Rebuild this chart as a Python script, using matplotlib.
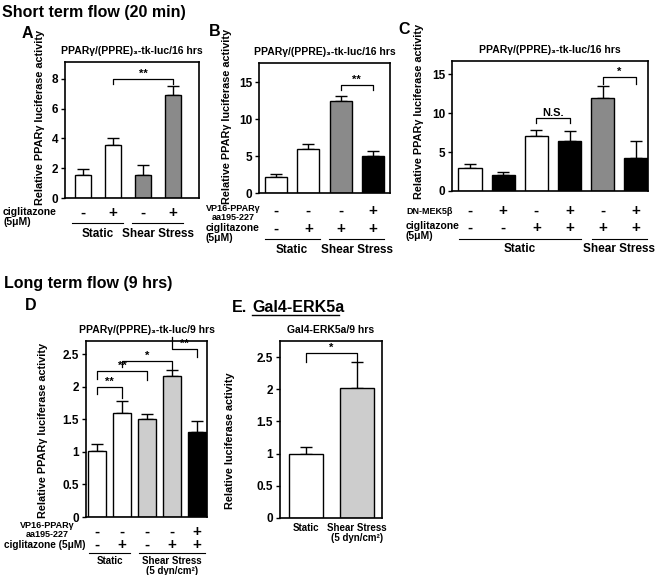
import matplotlib
matplotlib.use("Agg")
import matplotlib.pyplot as plt
from matplotlib.lines import Line2D

plt.rcParams['font.family'] = ['Liberation Sans', 'DejaVu Sans']
plt.rcParams['font.weight'] = 'bold'
plt.rcParams['axes.labelweight'] = 'bold'

W, H = 656, 575
WHITE, GRAY, LIGHT, BLACK = "white", "#8a8a8a", "#cdcdcd", "black"

# ---- data ----
# A: short term flow, ciglitazone
a_vals = [1.55, 3.55, 1.55, 6.9]
a_err = [0.4, 0.45, 0.65, 0.65]
a_cols = [WHITE, WHITE, GRAY, GRAY]
a_cig = ["-", "+", "-", "+"]
a_groups = [("Static", 0, 1), ("Shear Stress", 2, 3)]
a_sig = [(1, 3, 8.0, 0.35, 0.35, "**")]

# B: VP16-PPARg dominant negative
b_vals = [2.2, 5.9, 12.5, 5.0]
b_err = [0.35, 0.8, 0.7, 0.7]
b_cols = [WHITE, WHITE, GRAY, BLACK]
b_vp16 = ["-", "-", "-", "+"]
b_cig = ["-", "+", "+", "+"]
b_groups = [("Static", 0, 1), ("Shear Stress", 2, 3)]
b_sig = [(2, 3, 14.6, 0.7, 0.7, "**")]

# C: DN-MEK5b
c_vals = [3.0, 2.0, 7.1, 6.4, 12.0, 4.3]
c_err = [0.45, 0.45, 0.8, 1.3, 1.5, 2.1]
c_cols = [WHITE, BLACK, WHITE, BLACK, GRAY, BLACK]
c_mek = ["-", "+", "-", "+", "-", "+"]
c_cig = ["-", "-", "+", "+", "+", "+"]
c_groups = [("Static", 0, 3), ("Shear Stress", 4, 5)]
c_sig = [(2, 3, 9.4, 0.7, 0.7, "N.S."), (4, 5, 14.6, 0.8, 0.8, "*")]

# D: long term flow
d_vals = [1.02, 1.6, 1.5, 2.16, 1.31]
d_err = [0.1, 0.18, 0.08, 0.1, 0.16]
d_cols = [WHITE, WHITE, LIGHT, LIGHT, BLACK]
d_vp16 = ["-", "-", "-", "-", "+"]
d_cig = ["-", "+", "-", "+", "+"]
d_groups = [("Static", 0, 1), ("Shear Stress\n(5 dyn/cm²)", 2, 4)]
d_sig = [(0, 1, 2.0, 0.12, 0.18, "**"), (0, 2, 2.24, 0.12, 0.14, "**"),
         (1, 3, 2.4, 0.1, 0.14, "*"), (3, 4, 2.58, -0.18, 0.13, "**")]
d_ticks = [0, 0.5, 1, 1.5, 2, 2.5]
d_ticklabels = ["0", "0.5", "1", "1.5", "2", "2.5"]

# E: Gal4-ERK5a
e_vals = [1.0, 2.02]
e_err = [0.1, 0.4]
e_cols = [WHITE, LIGHT]
e_labels = ["Static", "Shear Stress\n(5 dyn/cm²)"]
e_sig = [(0, 1, 2.56, 0.13, 0.14, "*")]

fig = plt.figure(figsize=(W / 100, H / 100), dpi=100)


def px_axes(l, t, r, b):
    ax = fig.add_axes([l / W, 1 - b / H, (r - l) / W, (b - t) / H])
    ax._hpx = b - t
    return ax


def draw_bars(ax, vals, errs, cols, width, xlim, ylim, yticks, title, ylabel, lab_xy):
    x = list(range(len(vals)))
    ax.bar(x, vals, width=width, color=cols, edgecolor="black", linewidth=1.0, zorder=2)
    ax.errorbar(x, vals, yerr=[[0] * len(errs), errs], fmt="none", ecolor="black",
                elinewidth=1.0, capsize=4, capthick=1.0, zorder=1)
    ax.set_xlim(*xlim)
    ax.set_ylim(*ylim)
    ax.set_xticks([])
    ax.set_yticks(yticks)
    ax.tick_params(axis="y", length=3, width=1, labelsize=8.5, pad=2)
    for sp in ax.spines.values():
        sp.set_linewidth(1.2)
    ax.set_title(title, fontsize=7.5, fontweight="bold", pad=6)
    ax.set_ylabel(ylabel, fontsize=7.8, va="center")
    ax.yaxis.set_label_coords(*lab_xy)


def sig(ax, items):
    for i, j, y, d1, d2, s in items:
        ax.plot([i, i, j, j], [y - d1, y, y, y - d2], color="black", lw=0.9, clip_on=False)
        ax.annotate(s, xy=((i + j) / 2, y), xytext=(0, 1.5), textcoords="offset points",
                    ha="center", va="baseline", fontsize=8, fontweight="bold",
                    annotation_clip=False)


def below(ax, x, dy, s, size=10, va="center", **kw):
    ax.annotate(s, xy=(x, 0), xycoords=ax.get_xaxis_transform(), xytext=(0, -dy * 0.72),
                textcoords="offset points", ha="center", va=va, fontsize=size,
                fontweight="bold", annotation_clip=False, **kw)


def signs(ax, row, dy, size=11):
    for i, s in enumerate(row):
        below(ax, i, dy, s, size=size)


def groups(ax, items, dy_line, dy_text, pad=0.35, size=8.5):
    yf = -dy_line / ax._hpx
    for name, i, j in items:
        ax.plot([i - pad, j + pad], [yf, yf], transform=ax.get_xaxis_transform(),
                color="black", lw=0.8, clip_on=False)
        below(ax, (i + j) / 2, dy_text, name, size=size, va="top", linespacing=0.95)


title16 = "PPARγ/(PPRE)₃-tk-luc/16 hrs"
ylab = "Relative PPARγ luciferase activity"

# headings
fig.text(2 / W, 1 - 13 / H, "Short term flow (20 min)", fontsize=11.5, fontweight="bold", va="center")
fig.text(4 / W, 1 - 284 / H, "Long term flow (9 hrs)", fontsize=11.5, fontweight="bold", va="center")
for lx, ly, lt in [(22, 33, "A"), (209, 31, "B"), (398, 30, "C"), (25, 305, "D"), (232, 307, "E.")]:
    fig.text(lx / W, 1 - ly / H, lt, fontsize=11.5, fontweight="bold", va="center")

# ---- A ----
ax = px_axes(65, 62, 199, 198)
draw_bars(ax, a_vals, a_err, a_cols, 0.53, (-0.6, 3.87), (0, 9.14), [0, 2, 4, 6, 8], title16, ylab,
          (-0.19, 0.59))
sig(ax, a_sig)
signs(ax, a_cig, 15)
groups(ax, a_groups, 25, 30)
fig.text(3 / W, 1 - 217 / H, "ciglitazone\n(5μM)", fontsize=7.5, fontweight="bold", va="center",
         linespacing=1.0)

# ---- B ----
ax = px_axes(259, 63, 390, 193)
draw_bars(ax, b_vals, b_err, b_cols, 0.68, (-0.53, 3.53), (0, 17.6), [0, 5, 10, 15], title16, ylab,
          (-0.245, 0.59))
sig(ax, b_sig)
signs(ax, b_vp16, 18)
signs(ax, b_cig, 36)
groups(ax, b_groups, 46, 51)
fig.text(233 / W, 1 - 213 / H, "VP16-PPARγ\naa195-227", fontsize=6.5, fontweight="bold",
         va="center", ha="center", linespacing=1.0)
fig.text(206 / W, 1 - 233 / H, "ciglitazone\n(5μM)", fontsize=7.5, fontweight="bold", va="center",
         linespacing=1.0)

# ---- C ----
ax = px_axes(452, 61, 648, 191)
draw_bars(ax, c_vals, c_err, c_cols, 0.7, (-0.54, 5.36), (0, 16.7), [0, 5, 10, 15], title16, ylab,
          (-0.17, 0.61))
sig(ax, c_sig)
signs(ax, c_mek, 20)
signs(ax, c_cig, 37)
groups(ax, c_groups, 48, 52, pad=0.33)
fig.text(406 / W, 1 - 211 / H, "DN-MEK5β", fontsize=6.5, fontweight="bold", va="center")
fig.text(406 / W, 1 - 231 / H, "ciglitazone\n(5μM)", fontsize=7.5, fontweight="bold", va="center",
         linespacing=1.0)

# ---- D ----
ax = px_axes(86, 341, 207, 517)
draw_bars(ax, d_vals, d_err, d_cols, 0.72, (-0.44, 4.4), (0, 2.7), d_ticks,
          "PPARγ/(PPRE)₃-tk-luc/9 hrs", ylab, (-0.355, 0.49))
ax.set_yticklabels(d_ticklabels)
sig(ax, d_sig)
signs(ax, d_vp16, 15)
signs(ax, d_cig, 28)
groups(ax, d_groups, 36, 39, pad=0.32, size=7)
fig.text(47 / W, 1 - 530 / H, "VP16-PPARγ\naa195-227", fontsize=6.5, fontweight="bold",
         va="center", ha="center", linespacing=1.0)
fig.text(86 / W, 1 - 545 / H, "ciglitazone (5μM)", fontsize=7.2, fontweight="bold", va="center",
         ha="right")

# ---- E ----
fig.text(252 / W, 1 - 307 / H, "Gal4-ERK5a", fontsize=11.5, fontweight="bold", va="center")
fig.add_artist(Line2D([252 / W, 339 / W], [1 - 315 / H, 1 - 315 / H], color="black", lw=1))
ax = px_axes(280, 341, 382, 518)
draw_bars(ax, e_vals, e_err, e_cols, 0.67, (-0.51, 1.49), (0, 2.75), d_ticks,
          "Gal4-ERK5a/9 hrs", "Relative luciferase activity", (-0.49, 0.435))
ax.set_yticklabels(d_ticklabels)
sig(ax, e_sig)
for i, s in enumerate(e_labels):
    below(ax, i, 5, s, size=7, va="top", linespacing=0.95)

fig.savefig("out.png", dpi=100)
